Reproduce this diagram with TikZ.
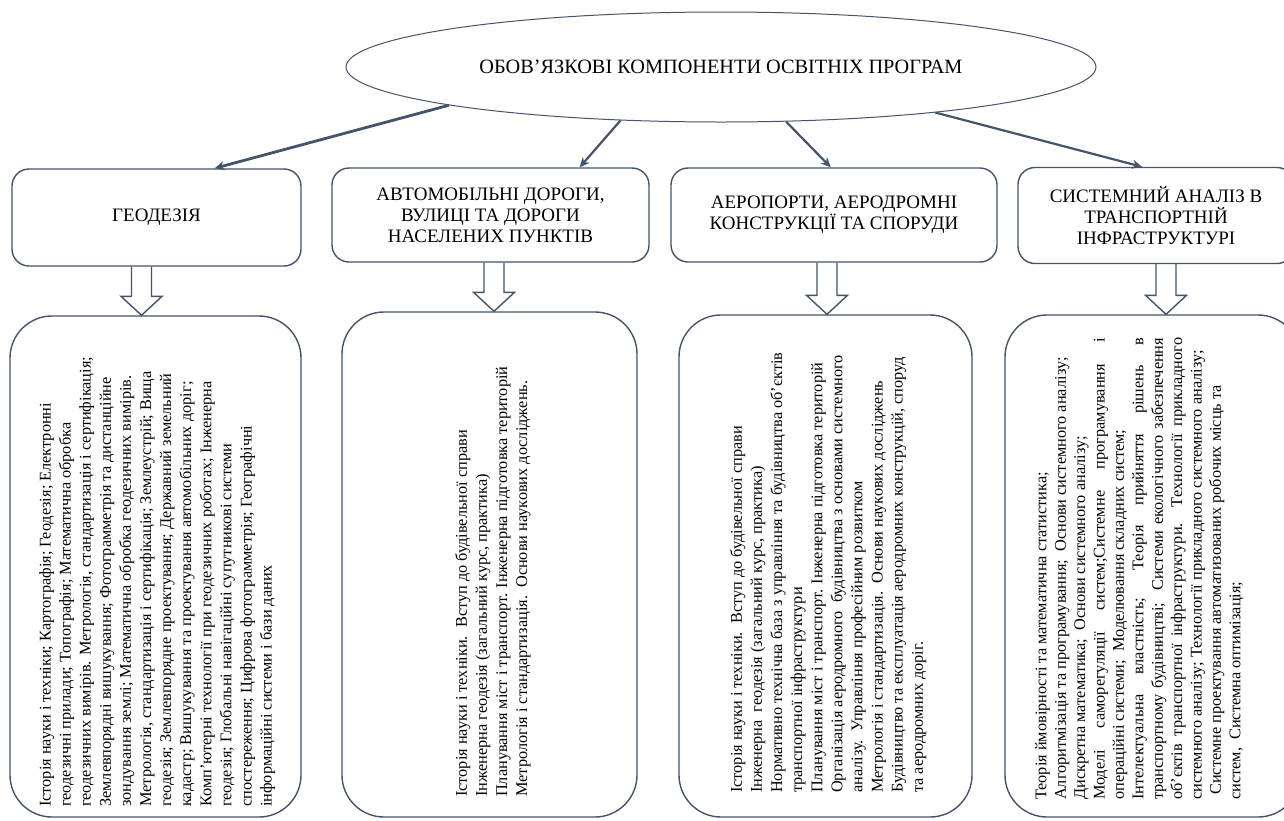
\documentclass[tikz,border=0pt]{standalone}
\usepackage{fontspec}
\setmainfont{Liberation Serif}
\usetikzlibrary{calc,shapes.geometric,arrows.meta}
\definecolor{ln}{HTML}{44546A}
\newcommand\blockarr[2]{\draw[blk] let \p1=(#1), \p2=(#2) in (\x1-10pt,\y1) -- (\x1-10pt,\y2+19pt) -- (\x1-20.5pt,\y2+19pt) -- (\x1,\y2) -- (\x1+20.5pt,\y2+19pt) -- (\x1+10pt,\y2+19pt) -- (\x1+10pt,\y1);}
\newcommand\jl[1]{\makebox[462pt][s]{#1}}
\begin{document}
\begin{tikzpicture}[x=1pt,y=-1pt,
  topbox/.style={draw=ln, line width=1.4pt, rounded corners=17pt, align=center, font=\fontsize{19}{21}\selectfont, inner sep=0pt},
  botbox/.style={draw=ln, line width=1.4pt, rounded corners=42pt, inner sep=0pt},
  conn/.style={draw=ln, line width=2.2pt, -{Stealth[length=10pt,width=9pt]}},
  blk/.style={draw=ln, line width=1.4pt, line join=miter},
  vtext/.style={rotate=90, anchor=north west, align=left, inner sep=0pt, font=\fontsize{16.3}{20.1}\selectfont}
]
\useasboundingbox (0,0) rectangle (1284,820);
\fill[white] (0,0) rectangle (1284,820);
\begin{scope}
\clip (0,0) rectangle (1284,820);
% title
\node[draw=ln, ellipse, line width=1pt, minimum width=750pt, minimum height=110pt, inner sep=0pt, font=\fontsize{20.3}{24}\selectfont] (title) at (721,67) {ОБОВ'ЯЗКОВІ КОМПОНЕНТИ ОСВІТНІХ ПРОГРАМ};
% top boxes
\node[topbox, minimum width=289pt, minimum height=97pt] (b1) at (156.5,217.5) {ГЕОДЕЗІЯ};
\node[topbox, minimum width=317pt, minimum height=94pt] (b2) at (490.5,215) {АВТОМОБІЛЬНІ ДОРОГИ,\\ВУЛИЦІ ТА ДОРОГИ\\НАСЕЛЕНИХ ПУНКТІВ};
\node[topbox, minimum width=326pt, minimum height=94pt] (b3) at (834,215) {АЕРОПОРТИ, АЕРОДРОМНІ\\КОНСТРУКЦІЇ ТА СПОРУДИ};
\node[topbox, minimum width=276pt, minimum height=96pt] (b4) at (1156,215.5) {СИСТЕМНИЙ АНАЛІЗ В\\ТРАНСПОРТНІЙ\\ІНФРАСТРУКТУРІ};
% bottom boxes
\node[botbox, minimum width=291pt, minimum height=501pt] (b5) at (155.5,566.5) {};
\node[botbox, minimum width=295pt, minimum height=505pt] (b6) at (489.5,564.5) {};
\node[botbox, minimum width=293pt, minimum height=502pt] (b7) at (825.5,566) {};
\node[botbox, minimum width=295pt, minimum height=502pt] (b8) at (1152.5,566) {};
% connectors
\draw[conn, line width=2.8pt] (title.188) -- ($(b1.north west)!0.70!(b1.north east)$);
\draw[conn] (title.208) -- ($(b2.north west)!0.78!(b2.north east)$);
\draw[conn] (title.320) -- ($(b3.north west)!0.49!(b3.north east)$);
\draw[conn] (title.348) -- ($(b4.north west)!0.45!(b4.north east)$);
% block arrows
\coordinate (ax1) at (141.5,0);
\coordinate (ax2) at (494,0);
\coordinate (ax3) at (827,0);
\coordinate (ax4) at (1166,0);
\blockarr{b1.south -| ax1}{b5.north -| ax1}
\blockarr{b2.south -| ax2}{b6.north -| ax2}
\blockarr{b3.south -| ax3}{b7.north -| ax3}
\blockarr{b4.south -| ax4}{b8.north -| ax4}
% texts
\node[vtext] (t5) at (39,807) {Історія науки і техніки; Картографія; Геодезія; Електронні\\
геодезичні прилади; Топографія; Математична обробка\\
геодезичних вимірів. Метрологія, стандартизація і сертифікація;\\
Землевпорядні вишукування; Фотограмметрія та дистанційне\\
зондування землі; Математична обробка геодезичних вимірів.\\
Метрологія, стандартизація і сертифікація; Землеустрій; Вища\\
геодезія; Землевпорядне проектування; Державний земельний\\
кадастр; Вишукування та проектування автомобільних доріг;\\
Комп'ютерні технології при геодезичних роботах; Інженерна\\
геодезія; Глобальні навігаційні супутникові системи\\
спостереження; Цифрова фотограмметрія; Географічні\\
інформаційні системи і бази даних};
\node[vtext] (t6) at (455,797) {Історія науки і техніки.\ \ Вступ до будівельної справи\\
Інженерна геодезія (загальний курс, практика)\\
Планування міст і транспорт. Інженерна підготовка територій\\
Метрологія і стандартизація.\ \ Основи наукових досліджень.};
\node[vtext] (t7) at (730,793) {Історія науки і техніки.\ \ Вступ до будівельної справи\\
Інженерна\ \ геодезія (загальний курс, практика)\\
Нормативно технічна база з управління та будівництва об'єктів\\
транспортної інфраструктури\\
Планування міст і транспорт. Інженерна підготовка територій\\
Організація аеродромного\ \ будівництва з основами системного\\
аналізу.\ \ Управління професійним розвитком\\
Метрологія і стандартизація.\ \ Основи наукових досліджень\\
Будівництво та експлуатація аеродромних конструкцій, споруд\\
та аеродромних доріг.};
\node[vtext, font=\fontsize{16.3}{19.4}\selectfont] (t8) at (1035,800) {Теорія ймовірності та математична статистика;\\
Алгоритмізація та програмування;\ \ Основи системного аналізу;\\
Дискретна математика;\ \ Основи системного аналізу;\\
\jl{Моделі саморегуляції систем;Системне програмування і}\\
операційні системи;\ \ Моделювання складних систем;\\
\jl{Інтелектуальна властність; Теорія прийняття рішень в}\\
\jl{транспортному будівництві;\ \ Системи екологічного забезпечення}\\
\jl{об'єктів транспортної інфраструктури. Технології прикладного}\\
системного аналізу; Технології прикладного системного аналізу;\\
\hspace*{5pt}Системне проектування автоматизованих робочих місць та\\
систем,\ \ Системна оптимізація;};
\end{scope}
\end{tikzpicture}
\end{document}
